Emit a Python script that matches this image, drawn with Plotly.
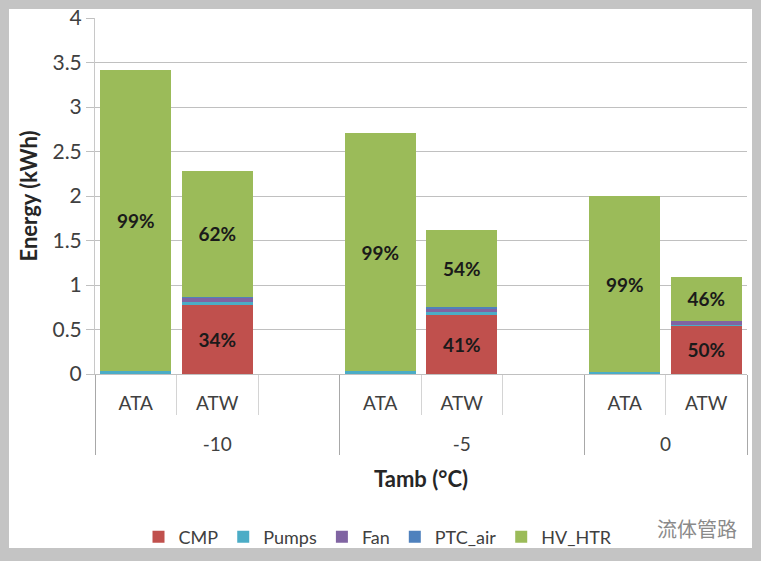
import plotly.graph_objects as go

# ---- data ----
temps = ["-10", "-10", "-10", "-5", "-5", "-5", "0", "0"]
systems = ["ATA", "ATW", " ", "ATA", "ATW", " ", "ATA", "ATW"]

cmp_vals    = [0.0, 0.77, None, 0.0, 0.66, None, 0.0, 0.545]
pumps_vals  = [0.03, 0.04, None, 0.03, 0.04, None, 0.02, 0.01]
fan_vals    = [0.0, 0.05, None, 0.0, 0.04, None, 0.0, 0.04]
ptc_vals    = [0.0, 0.01, None, 0.0, 0.01, None, 0.0, 0.0]
hv_vals     = [3.39, 1.41, None, 2.68, 0.87, None, 1.98, 0.50]

cmp_labels = ["", "34%", "", "", "41%", "", "", "50%"]
hv_labels  = ["99%", "62%", "", "99%", "54%", "", "99%", "46%"]

series = [
    ("CMP", cmp_vals, "#c0504d", cmp_labels),
    ("Pumps", pumps_vals, "#4bacc6", None),
    ("Fan", fan_vals, "#8064a2", None),
    ("PTC_air", ptc_vals, "#4f81bd", None),
    ("HV_HTR", hv_vals, "#9bbb59", hv_labels),
]

FONT = "Lato, 'Open Sans', sans-serif"
# inner labels get an extra blank line so the outer row sits lower
inner = [s + "<br><span style='font-size:32px'> </span>" for s in systems]

fig = go.Figure()
for name, vals, color, labels in series:
    fig.add_trace(go.Bar(
        name=name,
        x=[temps, inner],
        y=vals,
        marker=dict(color=color, line=dict(width=0)),
        text=labels,
        textposition="inside" if labels else "none",
        insidetextanchor="middle",
        textfont=dict(family=FONT, size=19, color="#1a1a1a", weight="bold"),
        hoverinfo="skip",
    ))

W0, W1 = 95, 747
T0, B0 = 18, 374
def px(x):
    return (x - W0) / (W1 - W0)
def py(y):
    return (B0 - y) / (B0 - T0)

fig.update_layout(
    width=761, height=561,
    margin=dict(l=95, r=761 - 747, t=18, b=561 - 374, autoexpand=False),
    barmode="stack",
    bargap=0.13,
    paper_bgcolor="#c4c4c4",
    plot_bgcolor="white",
    font=dict(family=FONT, size=18, color="#404040"),
    showlegend=True,
    uniformtext=dict(minsize=10, mode="show"),
    legend=dict(
        orientation="h", traceorder="normal",
        x=px(378), xanchor="center", y=py(537), yanchor="middle",
        font=dict(family=FONT, size=18, color="#404040"),
        bgcolor="rgba(0,0,0,0)",
    ),
    shapes=[dict(
        type="rect", xref="paper", yref="paper", layer="below",
        x0=px(9), x1=px(752), y0=py(548), y1=py(9),
        fillcolor="white", line=dict(width=0),
    )],
    annotations=[dict(
        text="流体管路", xref="paper", yref="paper",
        x=px(697), y=py(528), xanchor="center", yanchor="middle", showarrow=False,
        font=dict(family="Noto Sans CJK SC", size=20, color="#8a8a8a"),
    )],
)

fig.update_yaxes(
    range=[0, 4], dtick=0.5, automargin=False,
    showgrid=True, gridcolor="#c0c0c0", gridwidth=1,
    showline=True, linecolor="#c8c8c8", linewidth=1,
    ticks="outside", ticklen=8, tickcolor="#c0c0c0",
    tickfont=dict(size=21, color="#404040"),
    title=dict(text="<b>Energy (kWh)</b>", font=dict(size=22, color="#262626"), standoff=8),
    zeroline=False,
)
fig.update_xaxes(
    type="multicategory", automargin=False,
    showline=True, linecolor="#c0c0c0", linewidth=1,
    ticks="outside", ticklen=40, tickcolor="#d4d4d4",
    ticklabelstandoff=12,
    showdividers=True, dividercolor="#a8a8a8", dividerwidth=1,
    tickfont=dict(size=19, color="#404040"),
    title=dict(text="<b>Tamb (°C)</b>", font=dict(size=22, color="#262626"), standoff=18),
)

fig.write_html(
    "out.html",
    config={"displayModeBar": False},
    post_script="document.body.style.margin='0';document.body.style.background='#c4c4c4';",
)
